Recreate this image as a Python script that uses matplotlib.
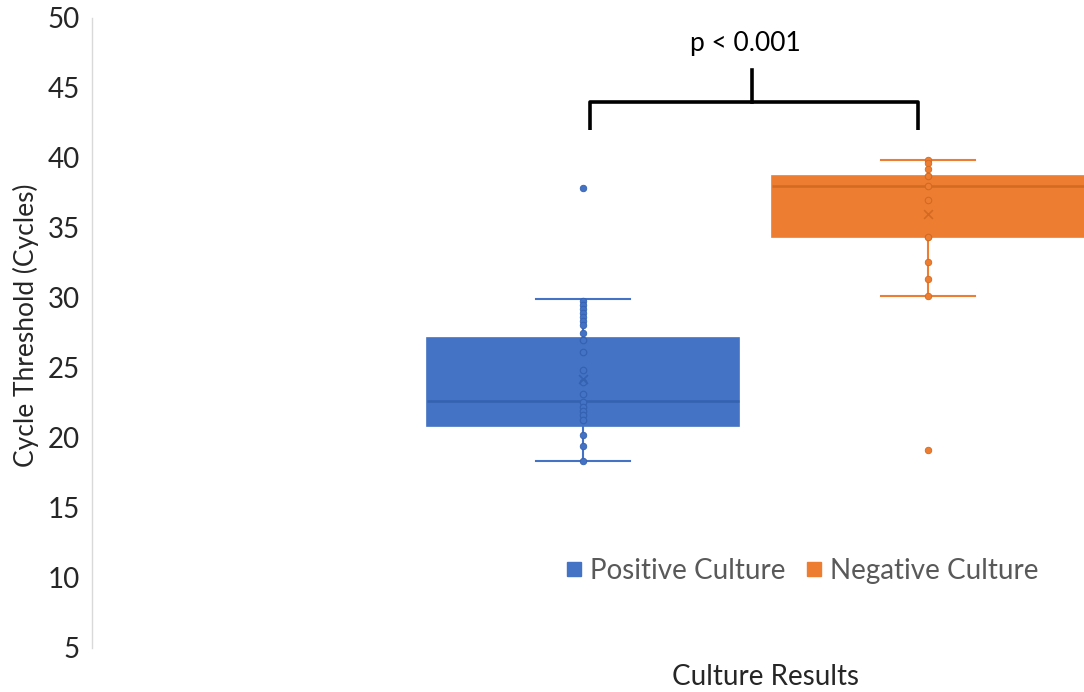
import numpy as np
import matplotlib.pyplot as plt
from matplotlib.lines import Line2D

plt.rcParams["font.family"] = ["Lato", "DejaVu Sans"]

# values
groups = ["Positive Culture", "Negative Culture"]
colors = ["#4472C4", "#ED7D31"]
dark_colors = ["#3461B0", "#D26A22"]

positive_ct = [29.81, 29.5, 29.19, 28.9, 28.62, 28.34, 28.05, 27.52, 27.0, 26.16,
               24.86, 24.0, 23.14, 22.59, 22.24, 21.95, 21.64, 21.29, 20.21, 19.45,
               18.36, 37.86]
negative_ct = [39.86, 39.67, 39.21, 38.74, 38.02, 37.0, 34.38, 32.55, 31.33, 30.14,
               19.14]

q1 = [20.86, 34.33]
median = [22.64, 38.02]
q3 = [27.14, 38.74]
whisker_lo = [18.36, 30.14]
whisker_hi = [29.93, 39.86]
means = [24.2, 36.0]

fig = plt.figure(figsize=(10.84, 6.92), dpi=100)
ax = fig.add_axes([92 / 1084, 44 / 692, 992 / 1084, 630 / 692])

positions = [1, 2]
for i in range(2):
    st = {"q1": q1[i], "med": median[i], "q3": q3[i],
          "whislo": whisker_lo[i], "whishi": whisker_hi[i],
          "mean": means[i], "fliers": []}
    ax.bxp([st], positions=[positions[i]], widths=0.907, patch_artist=True,
           showmeans=False, showfliers=False,
           boxprops=dict(facecolor=colors[i], edgecolor=colors[i], linewidth=1.2),
           medianprops=dict(color=dark_colors[i], linewidth=1.8),
           whiskerprops=dict(color=colors[i], linewidth=1.5),
           capprops=dict(color=colors[i], linewidth=1.5),
           capwidths=0.27, zorder=2)

# data points (those inside the box look hollow in the reference)
for i, vals in enumerate([positive_ct, negative_ct]):
    vals = np.array(vals)
    inside = (vals >= q1[i]) & (vals <= q3[i])
    ax.scatter(np.full((~inside).sum(), positions[i]), vals[~inside], s=22,
               color=colors[i], edgecolor=dark_colors[i], linewidth=0.6, zorder=3)
    ax.scatter(np.full(inside.sum(), positions[i]), vals[inside], s=22,
               facecolor=colors[i], edgecolor=dark_colors[i], linewidth=0.8, zorder=3)
    ax.scatter(positions[i], means[i], marker="x", s=40, color=dark_colors[i],
               linewidth=1.2, zorder=4)

# significance bracket
ax.plot([1.02, 1.02, 1.971, 1.971], [42.0, 44.0, 44.0, 42.0], color="black",
        linewidth=2.6, solid_joinstyle="round", solid_capstyle="butt", zorder=5)
ax.plot([1.49, 1.49], [44.0, 46.3], color="black", linewidth=2.6, zorder=5)
ax.text(1.47, 48.2, "p < 0.001", ha="center", va="center", fontsize=19,
        color="black")

ax.set_xlim(-0.423, 2.452)
ax.set_ylim(5, 50)
ax.set_yticks(np.arange(5, 51, 5))
ax.tick_params(axis="y", length=0, labelsize=20, labelcolor="#262626", pad=9)
ax.set_xticks([])
for side in ["top", "right", "bottom"]:
    ax.spines[side].set_visible(False)
ax.spines["left"].set_color("#D9D9D9")
ax.spines["left"].set_linewidth(1.0)

fig.text(26 / 1084, 1 - 325 / 692, "Cycle Threshold (Cycles)", rotation=90,
         ha="center", va="center", fontsize=19, color="#262626")
fig.text(765 / 1084, 1 - 677 / 692, "Culture Results", ha="center",
         va="center", fontsize=20, color="#262626")

handles = [Line2D([], [], marker="s", linestyle="none", markersize=10,
                  color=c, label=g) for g, c in zip(groups, colors)]
leg = ax.legend(handles=handles, loc="center",
                bbox_to_anchor=((800 - 92) / 992, 1 - (571 - 18) / 630),
                ncol=2, frameon=False, fontsize=20, handletextpad=0.1,
                columnspacing=0.6, handlelength=0.9)
for t in leg.get_texts():
    t.set_color("#595959")

fig.savefig("out.png", dpi=100)
